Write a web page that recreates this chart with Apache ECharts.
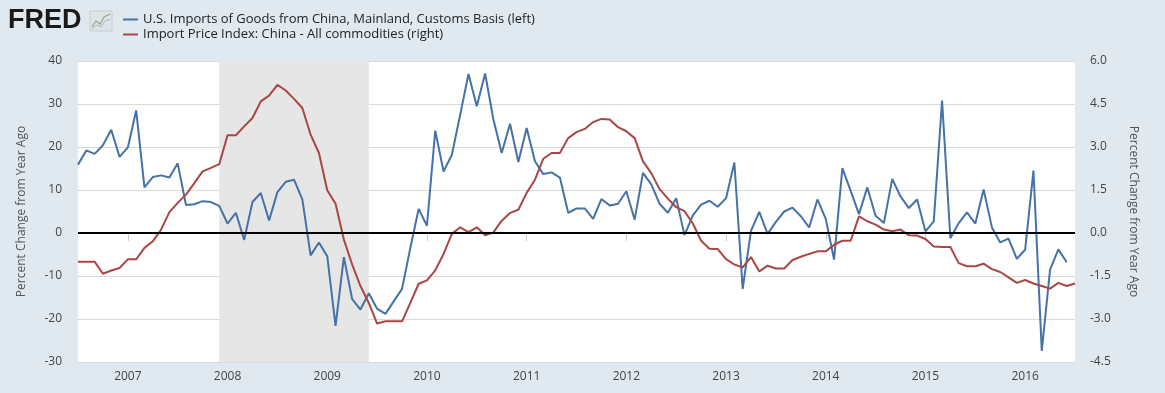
<!DOCTYPE html>
<html>
<head>
<meta charset="utf-8">
<script src="https://cdn.jsdelivr.net/npm/echarts@6/dist/echarts.min.js"></script>
<style>
html,body{margin:0;padding:0;background:#e1e9f0;}
#chart{width:1165px;height:393px;}
</style>
</head>
<body>
<div id="chart"></div>
<script>
// Monthly categories Jul 2006 .. Jul 2016
const startYear = 2006, startMonth = 7, monthCount = 121;
const months = [];
for (let i = 0; i < monthCount; i++) {
  const t = (startMonth - 1) + i;
  const y = startYear + Math.floor(t / 12);
  const m = (t % 12) + 1;
  months.push(y + '-' + (m < 10 ? '0' + m : '' + m));
}

// U.S. Imports of Goods from China (percent change from year ago, left axis)
const imports2006 = [15.9, 19.2, 18.4, 20.4, 24.0, 17.7];
const imports2007 = [19.9, 28.5, 10.6, 13.0, 13.4, 12.9, 16.2, 6.5, 6.7, 7.4, 7.2, 6.3];
const imports2008 = [2.2, 4.7, -1.6, 7.2, 9.3, 2.9, 9.5, 11.9, 12.4, 7.8, -5.2, -2.2];
const imports2009 = [-5.4, -21.6, -5.6, -15.4, -17.8, -14.0, -17.6, -18.8, -15.9, -13.0, -3.5, 5.6];
const imports2010 = [1.7, 23.8, 14.3, 18.2, 27.5, 37.0, 29.5, 37.1, 26.4, 18.6, 25.4, 16.5];
const imports2011 = [24.4, 16.7, 13.7, 14.1, 12.9, 4.7, 5.7, 5.7, 3.3, 7.9, 6.4, 6.8];
const imports2012 = [9.7, 3.1, 14.0, 11.3, 6.8, 4.7, 8.1, -0.5, 4.1, 6.6, 7.5, 6.1];
const imports2013 = [8.1, 16.4, -13.0, 0.5, 4.9, -0.2, 2.6, 5.0, 5.9, 3.9, 1.3, 7.8];
const imports2014 = [3.3, -6.2, 15.1, 9.8, 4.4, 10.6, 4.0, 2.3, 12.6, 8.5, 5.8, 7.8];
const imports2015 = [0.4, 2.7, 30.8, -1.2, 2.3, 4.8, 2.2, 10.1, 1.3, -2.2, -1.3, -6.0];
const imports2016 = [-3.9, 14.5, -27.4, -8.5, -3.8, -6.8, null];

// Import Price Index: China - All commodities (percent change from year ago, right axis)
const prices2006 = [-1.0, -1.0, -1.0, -1.42, -1.31, -1.22];
const prices2007 = [-0.92, -0.92, -0.52, -0.29, 0.12, 0.73, 1.05, 1.34, 1.74, 2.15, 2.27, 2.40];
const prices2008 = [3.41, 3.41, 3.72, 4.01, 4.59, 4.79, 5.17, 4.97, 4.68, 4.36, 3.43, 2.79];
const prices2009 = [1.49, 1.02, -0.23, -1.10, -1.85, -2.44, -3.16, -3.08, -3.08, -3.08, -2.44, -1.77];
const prices2010 = [-1.65, -1.30, -0.73, -0.03, 0.20, 0.03, 0.20, -0.08, 0.02, 0.43, 0.70, 0.81];
const prices2011 = [1.40, 1.86, 2.59, 2.79, 2.79, 3.31, 3.52, 3.63, 3.87, 3.98, 3.96, 3.69];
const prices2012 = [3.55, 3.31, 2.50, 2.09, 1.53, 1.20, 0.90, 0.76, 0.33, -0.27, -0.55, -0.56];
const prices2013 = [-0.91, -1.10, -1.20, -0.84, -1.34, -1.14, -1.24, -1.24, -0.94, -0.83, -0.73, -0.64];
const prices2014 = [-0.64, -0.41, -0.27, -0.27, 0.58, 0.41, 0.29, 0.12, 0.06, 0.12, -0.08, -0.09];
const prices2015 = [-0.21, -0.47, -0.49, -0.49, -1.05, -1.16, -1.16, -1.07, -1.26, -1.36, -1.55, -1.74];
const prices2016 = [-1.64, -1.76, -1.85, -1.94, -1.74, -1.85, -1.76];

const recessionStart = '2007-12';
const recessionEnd = '2009-06';

const seriesNames = [
  'U.S. Imports of Goods from China, Mainland, Customs Basis (left)',
  'Import Price Index: China - All commodities (right)'
];
const axisName = 'Percent Change from Year Ago';

const imports = [].concat(imports2006, imports2007, imports2008, imports2009, imports2010,
  imports2011, imports2012, imports2013, imports2014, imports2015, imports2016);
const prices = [].concat(prices2006, prices2007, prices2008, prices2009, prices2010,
  prices2011, prices2012, prices2013, prices2014, prices2015, prices2016);

const FONT = '"Open Sans", "DejaVu Sans", sans-serif';
const chart = echarts.init(document.getElementById('chart'), null, {renderer: 'canvas'});
const isJan = (i, v) => String(v).endsWith('-01');

chart.setOption({
  animation: false,
  backgroundColor: '#e1e9f0',
  textStyle: {fontFamily: FONT},
  graphic: [
    {type: 'rect', shape: {x: 78, y: 61, width: 997, height: 301}, style: {fill: '#ffffff'}, z: -10, silent: true},
    {type: 'text', left: 8, top: 7, style: {text: 'FRED', font: 'bold 27px "Liberation Sans", Arial, sans-serif', fill: '#1a1a1a'}},
    {type: 'rect', shape: {x: 90, y: 11, width: 22, height: 20}, style: {fill: '#dde3e6', stroke: '#c7cfd3', lineWidth: 1}},
    {type: 'polyline', shape: {points: [[92, 27], [96, 21], [100, 24], [104, 17], [110, 14]]}, style: {stroke: '#8fae7a', lineWidth: 1.2, fill: null}},
    {type: 'polyline', shape: {points: [[92, 29], [97, 25], [101, 27], [105, 21], [110, 19]]}, style: {stroke: '#a9b9c4', lineWidth: 1, fill: null}}
  ],
  legend: {
    orient: 'vertical',
    left: 123,
    top: 13,
    padding: 0,
    itemGap: 2,
    itemWidth: 15,
    itemHeight: 2,
    icon: 'rect',
    textStyle: {fontSize: 13, color: '#222', fontFamily: FONT},
    data: seriesNames
  },
  grid: {left: 78, right: 90, top: 61, bottom: 31, containLabel: false},
  xAxis: {
    type: 'category',
    data: months,
    boundaryGap: false,
    axisLine: {show: true, lineStyle: {color: '#c8ced3', width: 1}},
    axisTick: {show: true, interval: isJan, length: 8, lineStyle: {color: '#c8ced3'}},
    axisLabel: {interval: isJan, formatter: v => v.slice(0, 4), color: '#444', fontSize: 12, margin: 9, fontFamily: FONT},
    splitLine: {show: false}
  },
  yAxis: [
    {
      type: 'value', position: 'left', min: -30, max: 40, interval: 10,
      name: axisName, nameLocation: 'middle', nameRotate: 90, nameGap: 50,
      nameTextStyle: {color: '#555', fontSize: 12, fontFamily: FONT},
      axisLine: {show: false}, axisTick: {show: false},
      axisLabel: {color: '#444', fontSize: 12, margin: 16, fontFamily: FONT},
      splitLine: {lineStyle: {color: '#d9d9d9', width: 1}}
    },
    {
      type: 'value', position: 'right', min: -4.5, max: 6, interval: 1.5,
      name: axisName, nameLocation: 'middle', nameRotate: -90, nameGap: 52,
      nameTextStyle: {color: '#555', fontSize: 12, fontFamily: FONT},
      axisLine: {show: false}, axisTick: {show: false},
      axisLabel: {color: '#444', fontSize: 12, margin: 15, formatter: v => v.toFixed(1), fontFamily: FONT},
      splitLine: {show: false}
    }
  ],
  series: [
    {
      name: seriesNames[0],
      type: 'line',
      yAxisIndex: 0,
      data: imports,
      showSymbol: false,
      symbol: 'none',
      connectNulls: false,
      lineStyle: {color: '#4572a7', width: 2},
      itemStyle: {color: '#4572a7'},
      z: 3,
      markArea: {
        silent: true,
        itemStyle: {color: '#e6e6e6'},
        data: [[{xAxis: recessionStart}, {xAxis: recessionEnd}]]
      },
      markLine: {
        silent: true,
        symbol: 'none',
        label: {show: false},
        lineStyle: {color: '#000', width: 2, type: 'solid'},
        data: [{yAxis: 0}],
        z: 5
      }
    },
    {
      name: seriesNames[1],
      type: 'line',
      yAxisIndex: 1,
      data: prices,
      showSymbol: false,
      symbol: 'none',
      lineStyle: {color: '#aa4643', width: 2},
      itemStyle: {color: '#aa4643'},
      z: 3
    }
  ]
});
</script>
</body>
</html>
